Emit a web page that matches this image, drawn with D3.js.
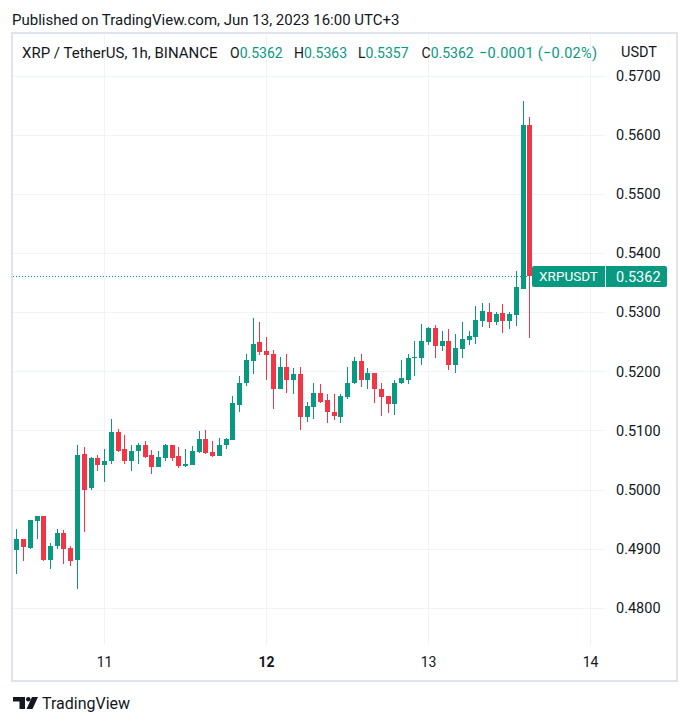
<!DOCTYPE html>
<html>
<head>
<meta charset="utf-8">
<script src="https://cdn.jsdelivr.net/npm/d3@7"></script>
<style>
  html, body { margin: 0; padding: 0; background: #ffffff; }
  svg { display: block; font-family: Roboto, "Noto Sans", sans-serif; }
</style>
</head>
<body>
<svg id="chart" width="689" height="725"></svg>
<script>
// ---------------- data ----------------
const publishedText = "Published on TradingView.com, Jun 13, 2023 16:00 UTC+3";
const symbolText = "XRP / TetherUS, 1h, BINANCE";
const ohlcLabels = ["O", "H", "L", "C"];
const ohlcValues = ["0.5362", "0.5363", "0.5357", "0.5362"];
const changeText = "\u22120.0001 (\u22120.02%)";
const currency = "USDT";
const seriesName = "XRPUSDT";
const lastPrice = 0.5362;

const opens = [
  0.4898,0.4916,0.4902,0.4947,0.4955,0.4881,0.4904,0.4926,0.4901,0.4881,
  0.5061,0.5002,0.5053,0.5041,0.5048,0.5097,0.5068,0.5049,0.5065,0.5075,
  0.5058,0.5039,0.5054,0.5075,0.5057,0.5040,0.5042,0.5063,0.5085,0.5063,
  0.5057,0.5075,0.5084,0.5143,0.5180,0.5217,0.5249,0.5234,0.5229,0.5171,
  0.5208,0.5185,0.5195,0.5122,0.5139,0.5163,0.5151,0.5132,0.5122,0.5156,
  0.5180,0.5217,0.5185,0.5197,0.5171,0.5158,0.5144,0.5181,0.5186,0.5222,
  0.5222,0.5250,0.5274,0.5243,0.5252,0.5211,0.5238,0.5253,0.5258,0.5285,
  0.5301,0.5284,0.5299,0.5285,0.5296,0.5340,0.5617,0.5362];
const highs = [
  0.4933,0.4916,0.4949,0.4956,0.4955,0.4909,0.4933,0.4931,0.4905,0.5075,
  0.5072,0.5056,0.5058,0.5068,0.5120,0.5103,0.5093,0.5076,0.5079,0.5082,
  0.5067,0.5065,0.5077,0.5075,0.5072,0.5069,0.5074,0.5099,0.5101,0.5082,
  0.5087,0.5087,0.5158,0.5193,0.5230,0.5291,0.5284,0.5258,0.5236,0.5224,
  0.5230,0.5205,0.5208,0.5148,0.5181,0.5178,0.5161,0.5161,0.5161,0.5208,
  0.5225,0.5230,0.5205,0.5198,0.5181,0.5158,0.5186,0.5220,0.5230,0.5252,
  0.5280,0.5275,0.5279,0.5269,0.5272,0.5263,0.5284,0.5269,0.5311,0.5316,
  0.5316,0.5301,0.5314,0.5301,0.5370,0.5658,0.5631,0.5363];
const lows = [
  0.4857,0.4879,0.4900,0.4916,0.4879,0.4866,0.4899,0.4874,0.4870,0.4831,
  0.4928,0.5000,0.5031,0.5013,0.5043,0.5064,0.5044,0.5032,0.5044,0.5053,
  0.5026,0.5038,0.5048,0.5048,0.5037,0.5039,0.5042,0.5062,0.5060,0.5055,
  0.5057,0.5069,0.5084,0.5131,0.5175,0.5196,0.5227,0.5185,0.5137,0.5171,
  0.5164,0.5161,0.5100,0.5115,0.5119,0.5146,0.5112,0.5117,0.5112,0.5153,
  0.5178,0.5173,0.5170,0.5146,0.5124,0.5129,0.5126,0.5179,0.5178,0.5193,
  0.5211,0.5245,0.5223,0.5235,0.5203,0.5198,0.5223,0.5245,0.5247,0.5275,
  0.5274,0.5279,0.5265,0.5272,0.5277,0.5340,0.5257,0.5357];
const closes = [
  0.4916,0.4903,0.4948,0.4955,0.4881,0.4904,0.4926,0.4899,0.4879,0.5059,
  0.5000,0.5053,0.5041,0.5049,0.5097,0.5066,0.5048,0.5066,0.5076,0.5056,
  0.5039,0.5055,0.5075,0.5054,0.5040,0.5043,0.5065,0.5085,0.5062,0.5057,
  0.5075,0.5085,0.5146,0.5181,0.5219,0.5247,0.5232,0.5228,0.5171,0.5207,
  0.5185,0.5195,0.5122,0.5141,0.5163,0.5149,0.5131,0.5124,0.5158,0.5181,
  0.5217,0.5186,0.5198,0.5170,0.5156,0.5144,0.5181,0.5189,0.5223,0.5224,
  0.5252,0.5274,0.5243,0.5252,0.5211,0.5240,0.5255,0.5260,0.5287,0.5302,
  0.5284,0.5297,0.5285,0.5297,0.5342,0.5617,0.5362,0.5362];

// hourly timestamps (category axis), Jun 10 11:00 .. Jun 13 16:00 (UTC+3)
const times = d3.utcHour.range(new Date(Date.UTC(2023, 5, 10, 11)), new Date(Date.UTC(2023, 5, 13, 17)));

const priceTicks = [0.57, 0.56, 0.55, 0.54, 0.53, 0.52, 0.51, 0.50, 0.49, 0.48];
const timeTicks = [new Date(Date.UTC(2023,5,11)), new Date(Date.UTC(2023,5,12)), new Date(Date.UTC(2023,5,13)), new Date(Date.UTC(2023,5,14))];
const timeTickLabels = ["11", "12", "13", "14"];
const boldTick = "12";

// ---------------- layout ----------------
const UP = "#089981", DOWN = "#f23645", TEXT = "#131722", GRID = "#f0f3fa", FRAME = "#e0e3eb";
const frame = { x: 12, y: 33, r: 677, b: 681 };
const pane = { l: 12, r: 605, t: 33, b: 645 };

const svg = d3.select("#chart");

const x = d3.scaleUtc()
  .domain([timeTicks[0], timeTicks[3]])
  .range([104, 590]);
const y = d3.scaleLinear()
  .domain([0.48, 0.57])
  .range([607.8, 75.9]);

// gridlines
svg.append("g").selectAll("line").data(priceTicks).join("line")
  .attr("x1", pane.l).attr("x2", pane.r)
  .attr("y1", d => Math.round(y(d)) + 0.5).attr("y2", d => Math.round(y(d)) + 0.5)
  .attr("stroke", GRID).attr("stroke-width", 1);
svg.append("g").selectAll("line").data(timeTicks).join("line")
  .attr("x1", d => Math.round(x(d)) + 0.5).attr("x2", d => Math.round(x(d)) + 0.5)
  .attr("y1", pane.t).attr("y2", pane.b)
  .attr("stroke", GRID).attr("stroke-width", 1);

// frame
svg.append("rect")
  .attr("x", frame.x).attr("y", frame.y)
  .attr("width", frame.r - frame.x).attr("height", frame.b - frame.y)
  .attr("fill", "none").attr("stroke", FRAME).attr("stroke-width", 2);

// dotted last price line
const yl = Math.round(y(lastPrice)) + 0.5;
svg.append("line")
  .attr("x1", pane.l + 1).attr("x2", 532)
  .attr("y1", yl).attr("y2", yl)
  .attr("stroke", UP).attr("stroke-width", 1)
  .attr("stroke-dasharray", "1 2");

// candles
const candles = times.map((t, i) => ({ t, o: opens[i], h: highs[i], l: lows[i], c: closes[i] }));
const cg = svg.append("g");
candles.forEach(d => {
  const cx = Math.round(x(d.t));
  const col = d.c >= d.o ? UP : DOWN;
  const yh = y(d.h), ylo = y(d.l);
  cg.append("rect")
    .attr("x", cx).attr("width", 1)
    .attr("y", Math.round(yh)).attr("height", Math.max(1, Math.round(ylo) - Math.round(yh)))
    .attr("fill", col);
  const top = Math.round(y(Math.max(d.o, d.c)));
  const bot = Math.round(y(Math.min(d.o, d.c)));
  cg.append("rect")
    .attr("x", cx - 2).attr("width", 5)
    .attr("y", top).attr("height", Math.max(1, bot - top))
    .attr("fill", col);
});

// price axis
const yAxis = d3.axisRight(y)
  .tickValues(priceTicks)
  .tickFormat(d3.format(".4f"))
  .tickSize(0).tickPadding(0);
const ya = svg.append("g").attr("transform", "translate(616,0)").call(yAxis);
ya.select(".domain").remove();
ya.selectAll("text").attr("fill", TEXT).style("font-size", "14.5px")
  .style("font-family", "Roboto, sans-serif");

// time axis
const xAxis = d3.axisBottom(x)
  .tickValues(timeTicks)
  .tickFormat((d, i) => timeTickLabels[i])
  .tickSize(0).tickPadding(0);
const xa = svg.append("g").attr("transform", "translate(0,657)").call(xAxis);
xa.select(".domain").remove();
xa.selectAll("text").attr("fill", TEXT).style("font-size", "14px")
  .style("font-family", "Roboto, sans-serif")
  .style("font-weight", (d, i) => timeTickLabels[i] === boldTick ? "bold" : "normal");

// last price label
const boxY = Math.round(y(lastPrice)) - 10;
svg.append("rect").attr("x", 532).attr("y", boxY).attr("width", 135).attr("height", 21)
  .attr("rx", 2).attr("fill", UP);
svg.append("line").attr("x1", 605.5).attr("x2", 605.5).attr("y1", boxY).attr("y2", boxY + 21)
  .attr("stroke", "#ffffff").attr("stroke-width", 1);
svg.append("text").attr("x", 568.5).attr("y", boxY + 10.5).attr("dy", "0.35em")
  .attr("text-anchor", "middle").attr("fill", "#ffffff")
  .style("font-size", "13.5px").text(seriesName);
svg.append("text").attr("x", 616).attr("y", boxY + 10.5).attr("dy", "0.35em")
  .attr("fill", "#ffffff").style("font-size", "14.5px").text(d3.format(".4f")(lastPrice));

// header texts
svg.append("text").attr("x", 12).attr("y", 25).attr("fill", TEXT)
  .style("font-size", "15px").text(publishedText);
svg.append("text").attr("x", 22).attr("y", 58).attr("fill", TEXT)
  .style("font-size", "15px").text(symbolText);
const ohlcX = [230, 294, 358, 421.5];
ohlcLabels.forEach((lab, i) => {
  const t = svg.append("text").attr("x", ohlcX[i]).attr("y", 58).style("font-size", "14px");
  t.append("tspan").attr("fill", TEXT).text(lab);
  t.append("tspan").attr("fill", UP).text(ohlcValues[i]);
});
svg.append("text").attr("x", 479).attr("y", 58).attr("fill", UP)
  .attr("textLength", 118).attr("lengthAdjust", "spacing")
  .style("font-size", "14.5px").text(changeText);
svg.append("text").attr("x", 621).attr("y", 57).attr("fill", TEXT)
  .style("font-size", "14.5px").text(currency);

// TradingView logo
const logo = svg.append("g").attr("transform", "translate(13,697)").attr("fill", TEXT);
logo.append("path").attr("d", "M0 0 H12 V12 H6.5 V4.5 H0 Z");
logo.append("circle").attr("cx", 15.3).attr("cy", 2.3).attr("r", 2.3);
logo.append("path").attr("d", "M19 0 H25 L19.5 12 H13.5 Z");
svg.append("text").attr("x", 42).attr("y", 709).attr("fill", TEXT)
  .style("font-size", "16px").text("TradingView");
</script>
</body>
</html>
